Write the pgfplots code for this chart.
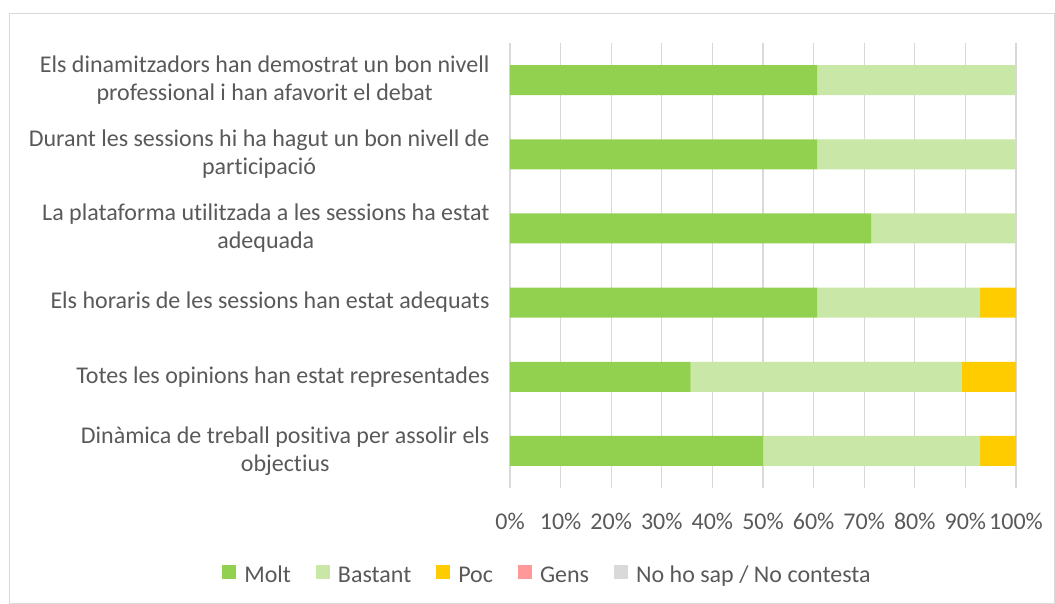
\documentclass[border=0pt]{standalone}
\usepackage{fontspec}
\setmainfont{Carlito}[Ligatures=NoCommon]
\usepackage{pgfplots}
\pgfplotsset{compat=1.18}
\definecolor{molt}{HTML}{92D050}
\definecolor{bastant}{HTML}{C9E7A7}
\definecolor{poc}{HTML}{FFCC00}
\definecolor{gens}{HTML}{FF9999}
\definecolor{nohosap}{HTML}{D9D9D9}
\definecolor{txt}{HTML}{595959}
\definecolor{gridc}{HTML}{D9D9D9}
\begin{document}
\begin{tikzpicture}[x=1pt,y=1pt]
\path (0,0) rectangle (1055,-604);
\draw[gridc, line width=1pt] (9.5,-13.5) rectangle (1054.5,-603.5);
\begin{axis}[
  at={(510pt,-488pt)}, anchor=south west,
  scale only axis, width=506pt, height=445pt,
  xbar stacked, bar width=30pt,
  xmin=0, xmax=100, ymin=-0.5, ymax=5.5,
  y dir=reverse,
  xtick={0,10,...,100},
  xticklabels={0\%,10\%,20\%,30\%,40\%,50\%,60\%,70\%,80\%,90\%,100\%},
  ytick={0,1,2,3,4,5},
  yticklabels={
    {Els dinamitzadors han demostrat un bon nivell\\professional i han afavorit el debat},
    {Durant les sessions hi ha hagut un bon nivell de\\participació},
    {La plataforma utilitzada a les sessions ha estat\\adequada},
    {Els horaris de les sessions han estat adequats},
    {Totes les opinions han estat representades},
    {Dinàmica de treball positiva per assolir els\\objectius}},
  yticklabel style={align=center, font=\fontsize{24}{28}\selectfont, text=txt, xshift=-17pt},
  xticklabel style={font=\fontsize{24}{28}\selectfont, text=txt, yshift=-22pt},
  major tick length=0pt,
  axis line style={draw=none},
  xmajorgrids, ymajorgrids=false,
  grid style={gridc, line width=1.2pt},
  legend columns=5,
  legend style={at={(0.075,-0.191)}, anchor=center, draw=none, fill=none,
    font=\fontsize{24}{28}\selectfont, text=txt,
    /tikz/every even column/.append style={column sep=22pt},
    nodes={inner xsep=3pt, inner ysep=2pt}},
  legend image code/.code={\fill[#1] (0pt,-6pt) rectangle (14pt,8pt); \path (19pt,1pt);},
]
\addplot[fill=molt, draw=none] coordinates {(60.7,0) (60.7,1) (71.4,2) (60.7,3) (35.7,4) (50.0,5)};
\addplot[fill=bastant, draw=none] coordinates {(39.3,0) (39.3,1) (28.6,2) (32.2,3) (53.6,4) (42.9,5)};
\addplot[fill=poc, draw=none] coordinates {(0,0) (0,1) (0,2) (7.1,3) (10.7,4) (7.1,5)};
\addplot[fill=gens, draw=none] coordinates {(0,0) (0,1) (0,2) (0,3) (0,4) (0,5)};
\addplot[fill=nohosap, draw=none] coordinates {(0,0) (0,1) (0,2) (0,3) (0,4) (0,5)};
\legend{\strut Molt,\strut Bastant,\strut Poc,\strut Gens,\strut No ho sap / No contesta}
\end{axis}
\end{tikzpicture}
\end{document}
